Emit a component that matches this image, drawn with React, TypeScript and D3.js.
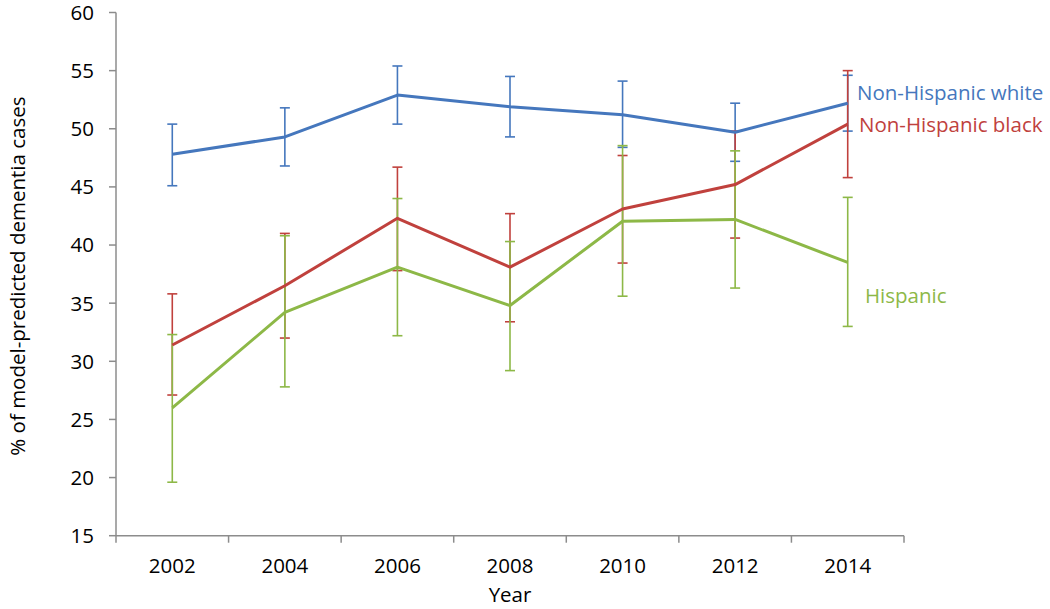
import React from "react";
import * as d3 from "d3";

const years = ["2002", "2004", "2006", "2008", "2010", "2012", "2014"];
const yTicks = [15, 20, 25, 30, 35, 40, 45, 50, 55, 60];

const whiteVals = [47.8, 49.3, 52.9, 51.9, 51.2, 49.7, 52.2];
const whiteLow = [45.1, 46.8, 50.4, 49.3, 48.4, 47.2, 49.8];
const whiteHigh = [50.4, 51.8, 55.4, 54.5, 54.1, 52.2, 54.6];

const blackVals = [31.4, 36.5, 42.3, 38.1, 43.1, 45.2, 50.4];
const blackLow = [27.1, 32.0, 37.8, 33.4, 38.45, 40.6, 45.8];
const blackHigh = [35.8, 41.0, 46.7, 42.7, 47.7, 49.8, 55.0];

const hispVals = [26.0, 34.2, 38.1, 34.8, 42.05, 42.2, 38.5];
const hispLow = [19.6, 27.8, 32.2, 29.2, 35.6, 36.3, 33.0];
const hispHigh = [32.3, 40.8, 44.0, 40.3, 48.55, 48.1, 44.1];

const series = [
  {name: "Non-Hispanic white", color: "#4577BD", vals: whiteVals, low: whiteLow, high: whiteHigh, labelX: 857, labelY: 100},
  {name: "Non-Hispanic black", color: "#C0413D", vals: blackVals, low: blackLow, high: blackHigh, labelX: 859, labelY: 132},
  {name: "Hispanic", color: "#8DB847", vals: hispVals, low: hispLow, high: hispHigh, labelX: 865, labelY: 303},
];

const font = "'Open Sans', sans-serif";
const axisColor = "#8C8C8C";

export default function App() {
  const width = 1050;
  const height = 609;
  const left = 116;
  const right = 904;
  const top = 12.5;
  const bottom = 535.7;

  const x = d3.scaleBand<string>().domain(years).range([left, right]);
  const y = d3.scaleLinear().domain([15, 60]).range([bottom, top]);
  const cx = (d: string) => (x(d) as number) + x.bandwidth() / 2;

  const line = d3.line<number>()
    .x((d, i) => cx(years[i]))
    .y(d => y(d));

  return (
    <svg width={width} height={height} style={{position: "absolute", left: 0, top: 0, background: "#fff"}}>
      {/* y axis */}
      <line x1={left} x2={left} y1={top} y2={bottom} stroke={axisColor} strokeWidth={1.5} />
      {yTicks.map(t => (
        <g key={t}>
          <line x1={left - 7} x2={left} y1={y(t)} y2={y(t)} stroke={axisColor} strokeWidth={1.5} />
          <text x={94} y={y(t)} dy="0.36em" textAnchor="end" fontFamily={font} fontSize={20.5} fill="#000">{t}</text>
        </g>
      ))}
      {/* x axis */}
      <line x1={left} x2={right} y1={bottom} y2={bottom} stroke={axisColor} strokeWidth={1.5} />
      {years.map(yr => (
        <line key={"t" + yr} x1={x(yr)} x2={x(yr)} y1={bottom} y2={bottom + 7} stroke={axisColor} strokeWidth={1.5} />
      ))}
      <line x1={right} x2={right} y1={bottom} y2={bottom + 7} stroke={axisColor} strokeWidth={1.5} />
      {years.map(yr => (
        <text key={"l" + yr} x={cx(yr)} y={573} textAnchor="middle" fontFamily={font} fontSize={20.5} fill="#000">{yr}</text>
      ))}
      <text x={510} y={602} textAnchor="middle" fontFamily={font} fontSize={20.5} fill="#000">Year</text>
      <text transform={`translate(25,${(top + bottom) / 2 + 2}) rotate(-90)`} textAnchor="middle" fontFamily={font} fontSize={20.5} fill="#000">
        % of model-predicted dementia cases
      </text>

      {/* error bars */}
      {series.map(s => (
        <g key={"e" + s.name} stroke={s.color} strokeWidth={1.6} fill="none">
          {years.map((yr, i) => (
            <g key={yr}>
              <line x1={cx(yr)} x2={cx(yr)} y1={y(s.low[i])} y2={y(s.high[i])} />
              <line x1={cx(yr) - 5} x2={cx(yr) + 5} y1={y(s.low[i])} y2={y(s.low[i])} />
              <line x1={cx(yr) - 5} x2={cx(yr) + 5} y1={y(s.high[i])} y2={y(s.high[i])} />
            </g>
          ))}
        </g>
      ))}

      {/* lines */}
      {series.map(s => (
        <path key={"p" + s.name} d={line(s.vals) as string} stroke={s.color} strokeWidth={3} fill="none" strokeLinejoin="round" />
      ))}

      {/* labels */}
      {series.map(s => (
        <text key={"n" + s.name} x={s.labelX} y={s.labelY} fontFamily={font} fontSize={20.5} fill={s.color}>{s.name}</text>
      ))}
    </svg>
  );
}
